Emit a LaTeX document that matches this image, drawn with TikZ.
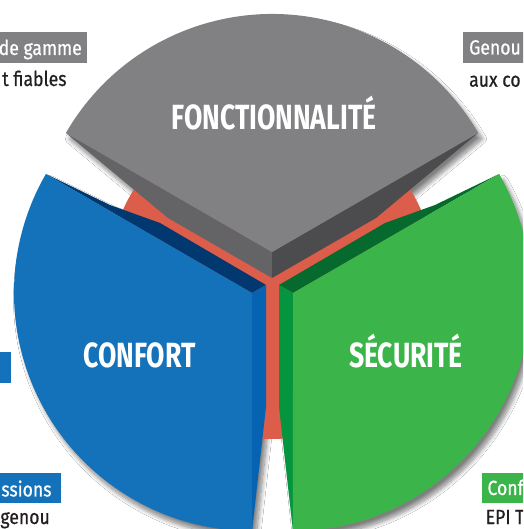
\documentclass[tikz,border=0pt]{standalone}
\usepackage{fontspec}
\setmainfont{Fira Sans}
\newfontfamily\titlefont{Fira Sans}[FakeStretch=0.76]
\newfontfamily\labfont{Fira Sans}[FakeStretch=0.86,FakeBold=0.6]
\usetikzlibrary{shadows.blur}
\definecolor{greytop}{HTML}{818184}
\definecolor{greyleft}{HTML}{646466}
\definecolor{greyright}{HTML}{4C4C4E}
\definecolor{redbg}{HTML}{DC5D4A}
\definecolor{bluetop}{HTML}{1372BA}
\definecolor{bluenavy}{HTML}{01386F}
\definecolor{bluemid}{HTML}{0563B2}
\definecolor{greentop}{HTML}{3BB54A}
\definecolor{greendark}{HTML}{066A2E}
\definecolor{greenmid}{HTML}{05953F}
\definecolor{textblack}{HTML}{231F20}
\def\grayshape{(65.9,396) arc[start angle=150,end angle=30,radius=238] -- (376,311) -- (272,251) -- (168,311) -- cycle}
\def\blueshape{(45.9,355) arc[start angle=150,end angle=270,radius=238] -- (266,122) -- (266,244) -- (160,306) -- (110,324) -- cycle}
\def\greenshape{(499.1,355) arc[start angle=30,end angle=-90,radius=238] -- (279,122) -- (279,244) -- (385,306) -- (435,324) -- cycle}
\begin{document}
\begin{tikzpicture}[x=1pt,y=1pt,
  sh/.style={blur shadow={shadow xshift=4pt,shadow yshift=-6pt,shadow blur radius=4.5pt,shadow blur steps=10,shadow opacity=50}},
  title/.style={font=\titlefont\bfseries\fontsize{35}{35}\selectfont,text=white,inner sep=0pt,anchor=base},
  boxtext/.style={font=\labfont\fontsize{20.5}{20.5}\selectfont,text=white,inner sep=0pt},
  bodytext/.style={font=\labfont\fontsize{20.5}{20.5}\selectfont,text=textblack,inner sep=0pt}]
\useasboundingbox (0,0) rectangle (523,529);
\clip (0,0) rectangle (523,529);
\fill[white] (0,0) rectangle (523,529);
% shadows
\path[sh] \grayshape;
\path[sh] \blueshape;
\path[sh] \greenshape;
% red background disc
\fill[redbg] (272,253) circle[radius=163];
% grey sector
\fill[greyleft] (65.9,396) -- (272,277) -- (272,251) -- (168,311) -- cycle;
\fill[greyright] (478.1,396) -- (272,277) -- (272,251) -- (376,311) -- cycle;
\fill[greytop] (65.9,396) arc[start angle=150,end angle=30,radius=238] -- (272,277) -- cycle;
% blue sector
\fill[bluenavy] (45.9,355) -- (110,324) -- (160,306) -- (266,244) -- (252,236) -- cycle;
\fill[bluemid] (252,236) -- (266,244) -- (266,122) -- (252,-2) -- cycle;
\fill[bluetop] (45.9,355) arc[start angle=150,end angle=270,radius=238] -- (252,236) -- cycle;
% green sector
\fill[greendark] (499.1,355) -- (435,324) -- (385,306) -- (279,244) -- (293,236) -- cycle;
\fill[greenmid] (293,236) -- (279,244) -- (279,122) -- (293,-2) -- cycle;
\fill[greentop] (499.1,355) arc[start angle=30,end angle=-90,radius=238] -- (293,236) -- cycle;
% titles
\node[title] (fonct) at (274,399) {FONCTIONNALITÉ};
\node[title] (confort) at (139.5,161) {CONFORT};
\node[title] (secu) at (406,161) {SÉCURITÉ};
% side labels
\fill[greytop] (-1,466.3) rectangle (87.3,496.7);
\node[boxtext,anchor=base east] (lab1) at (82,474) {de gamme};
\node[bodytext,anchor=base east] (lab1b) at (66.7,443) {t fiables};
\fill[greytop] (463.3,466.3) rectangle (524,496.7);
\node[boxtext,anchor=base west] (lab2) at (469,474.5) {Genou};
\node[bodytext,anchor=base west] (lab2b) at (469,442.3) {aux co};
\fill[bluetop] (-1,146.3) rectangle (11,177.3);
\fill[bluetop] (-1,25.7) rectangle (61,55.7);
\node[boxtext,anchor=base east] (lab3) at (51.7,32.5) {ssions};
\node[bodytext,anchor=base east] (lab3b) at (50,5) {genou};
\fill[greentop] (481.7,25.7) rectangle (524,55.7);
\node[boxtext,anchor=base west] (lab4) at (487.3,34) {Conf};
\node[bodytext,anchor=base west] (lab4b) at (485.5,5) {EPI T};
\end{tikzpicture}
\end{document}
